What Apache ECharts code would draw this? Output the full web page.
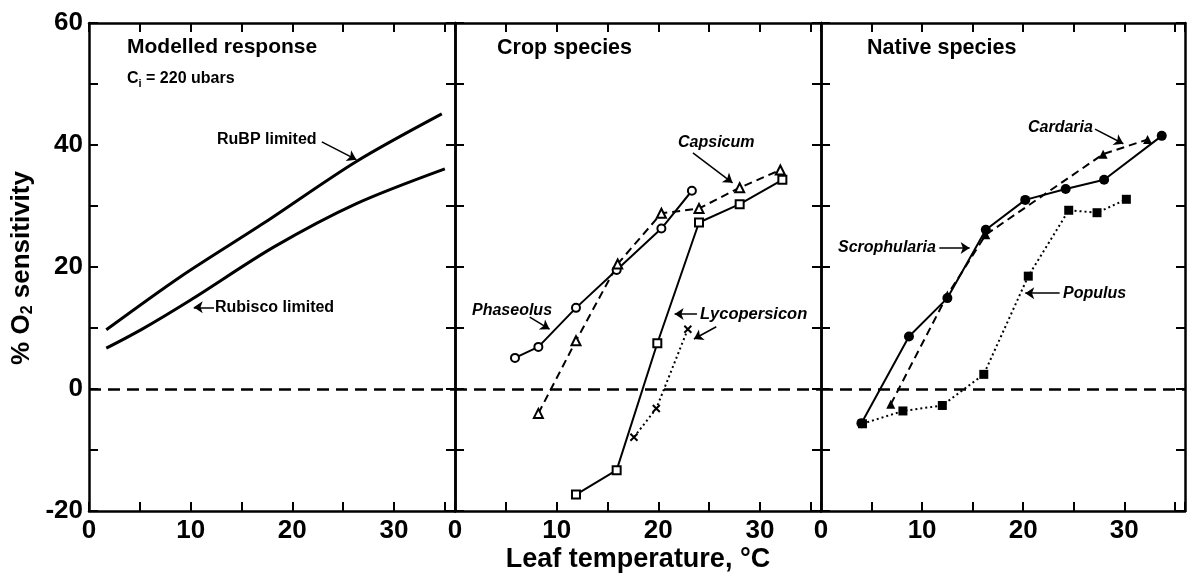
<!DOCTYPE html>
<html>
<head>
<meta charset="utf-8">
<script src="https://cdn.jsdelivr.net/npm/echarts@6/dist/echarts.min.js"></script>
<style>
  html, body { margin: 0; padding: 0; background: #fff; }
  #chart { width: 1188px; height: 575px; }
</style>
</head>
<body>
<div id="chart"></div>
<script>
// data: [leaf temperature C, % O2 sensitivity]
var rubpLimited = [[1.7, 9.7], [9, 18.4], [17.2, 27.2], [26.3, 37.3], [34.7, 45.1]];
var rubiscoLimited = [[1.7, 6.7], [5.1, 9.7], [10, 14.6], [18.2, 23.3], [26.3, 30.4], [35, 36.1]];

var phaseolus = [[5.9, 5.1], [8.2, 6.9], [11.9, 13.3], [15.9, 19.5], [20.3, 26.3], [23.3, 32.5]];
var capsicum = [[8.2, -4], [11.9, 7.9], [16, 20.5], [20.3, 28.8], [24, 29.6], [28, 33], [32, 35.9]];
var lycoSquares = [[11.9, -17.3], [15.9, -13.3], [19.9, 7.5], [24, 27.3], [28, 30.3], [32.2, 34.3]];
var lycoCrosses = [[17.6, -7.9], [19.8, -3.2], [22.9, 9.8]];

var scrophularia = [[4, -5.6], [8.7, 8.6], [12.5, 14.9], [16.3, 26.1], [20.2, 31], [24.2, 32.8], [28, 34.3], [33.7, 41.5]];
var cardaria = [[6.9, -2.5], [12.5, 15.4], [16.3, 25.3], [27.9, 38.5], [32.3, 40.9]];
var populus = [[4.1, -5.7], [8.1, -3.6], [12, -2.7], [16.1, 2.4], [20.5, 18.5], [24.5, 29.3], [27.3, 28.9], [30.2, 31.1]];

var yTicks = [-20, 0, 20, 40, 60];
var xTicks = [0, 10, 20, 30];

// arrows [panel, from, to] in data units
var arrows = [
    [0, [22.9, 40.5], [26.3, 37.6]],
    [0, [12.3, 13.4], [10.3, 13.4]],
    [1, [23.4, 38.7], [27.3, 33.8]],
    [1, [7.35, 11.8], [9.3, 9.8]],
    [1, [23.8, 12.3], [21.6, 12.3]],
    [1, [25.7, 10.2], [23.5, 8.2]],
    [2, [27.1, 42.6], [29.9, 40.2]],
    [2, [11.7, 23.1], [14.7, 23.1]],
    [2, [23.6, 15.7], [20.2, 15.7]]
];

var FONT = '"Liberation Sans", Arial, sans-serif';
var gridLefts = [89, 455, 821];
var W = 366, TOP = 23, H = 488;

var grids = [], xAxes = [], yAxes = [];
gridLefts.forEach(function (l, i) {
    grids.push({ left: l, top: TOP, width: W, height: H });
    var axLine = { show: true, onZero: false, lineStyle: { color: '#000', width: 2.5 } };
    var tick = { show: true, inside: true, length: 9, lineStyle: { color: '#000', width: 2 } };
    xAxes.push({
        type: 'value', gridIndex: i, min: 0, max: 36, interval: 5, position: 'bottom',
        axisLine: axLine, axisTick: tick, splitLine: { show: false },
        axisLabel: {
            color: '#000', fontSize: 26, fontWeight: 'bold', fontFamily: FONT, margin: 7,
            formatter: function (v) { return xTicks.indexOf(v) >= 0 ? String(v) : ''; }
        }
    });
    xAxes.push({
        type: 'value', gridIndex: i, min: 0, max: 36, interval: 5, position: 'top',
        axisLine: axLine, axisTick: tick, splitLine: { show: false }, axisLabel: { show: false }
    });
    yAxes.push({
        type: 'value', gridIndex: i, min: -20, max: 60, interval: 10, position: 'left',
        axisLine: axLine, axisTick: tick, splitLine: { show: false },
        axisLabel: {
            show: i === 0, color: '#000', fontSize: 26, fontWeight: 'bold', fontFamily: FONT, margin: 6,
            formatter: function (v) { return yTicks.indexOf(v) >= 0 ? String(v) : ''; }
        }
    });
    yAxes.push({
        type: 'value', gridIndex: i, min: -20, max: 60, interval: 10, position: 'right',
        axisLine: axLine, axisTick: tick, splitLine: { show: false }, axisLabel: { show: false }
    });
});

var crossPath = 'path://M0,0L10,10M10,0L0,10';

function mk(panel, data, symbol, size, lineType, filled, extra) {
    var s = {
        type: 'line', xAxisIndex: panel * 2, yAxisIndex: panel * 2, data: data,
        symbol: symbol, symbolSize: size, showSymbol: symbol !== 'none', animation: false,
        lineStyle: { color: '#000', width: 2, type: lineType },
        itemStyle: { color: '#000', borderColor: '#000', borderWidth: filled ? 0 : 2 },
        z: 3
    };
    if (extra) Object.assign(s, extra);
    return s;
}

function arrowLines(panel) {
    return arrows.filter(function (a) { return a[0] === panel; }).map(function (a) {
        return [{ coord: a[1] }, { coord: a[2] }];
    });
}

function guides(panel) {
    return {
        type: 'line', xAxisIndex: panel * 2, yAxisIndex: panel * 2, data: [], animation: false,
        markLine: {
            silent: true, animation: false, symbol: 'none', label: { show: false },
            lineStyle: { color: '#000', width: 2.5, type: [12, 7] },
            data: [{ yAxis: 0 }]
        }
    };
}

function arrowSeries(panel) {
    return {
        type: 'line', xAxisIndex: panel * 2, yAxisIndex: panel * 2, data: [[0, 0]],
        symbol: 'none', lineStyle: { opacity: 0 }, animation: false,
        markLine: {
            silent: true, animation: false, symbol: ['none', 'arrow'], symbolSize: 9,
            label: { show: false },
            lineStyle: { color: '#000', width: 1.5, type: 'solid' },
            itemStyle: { color: '#000' },
            data: arrowLines(panel)
        }
    };
}

var series = [
    guides(0), guides(1), guides(2),
    arrowSeries(0), arrowSeries(1), arrowSeries(2),
    mk(0, rubpLimited, 'none', 0, 'solid', true, { smooth: 0.3, lineStyle: { color: '#000', width: 3 } }),
    mk(0, rubiscoLimited, 'none', 0, 'solid', true, { smooth: 0.3, lineStyle: { color: '#000', width: 3 } }),
    mk(1, phaseolus, 'emptyCircle', 8, 'solid', false),
    mk(1, capsicum, 'emptyTriangle', 9, [8, 5], false),
    mk(1, lycoSquares, 'emptyRect', 8, 'solid', false),
    mk(1, lycoCrosses, crossPath, 7, [2, 3], false),
    mk(2, scrophularia, 'circle', 10, 'solid', true),
    mk(2, cardaria, 'triangle', 9, [8, 5], true),
    mk(2, populus, 'rect', 9, [2, 3], true)
];

function txt(x, y, text, size, italic, extra) {
    var st = {
        x: x, y: y, text: text, fill: '#000', font: (italic ? 'italic ' : '') + 'bold ' + size + 'px ' + FONT,
        textVerticalAlign: 'middle'
    };
    if (extra) Object.assign(st, extra);
    return { type: 'text', z: 10, silent: true, style: st };
}

var graphic = [
    txt(127, 47, 'Modelled response', 21),
    txt(127, 79, 'C{s|i} = 220 ubars', 16, false, {
        rich: { s: { fontSize: 11, fontWeight: 'bold', fontFamily: FONT, padding: [9, 0, 0, 0] } }
    }),
    txt(217, 140, 'RuBP limited', 16),
    txt(215, 308, 'Rubisco limited', 16),
    txt(497, 48, 'Crop species', 21.5),
    txt(678, 143, 'Capsicum', 16, true),
    txt(472, 311, 'Phaseolus', 16, true),
    txt(700, 314, 'Lycopersicon', 16.5, true),
    txt(867, 48, 'Native species', 21.5),
    txt(1028, 128, 'Cardaria', 16, true),
    txt(838, 248, 'Scrophularia', 16, true),
    txt(1063, 294, 'Populus', 16, true),
    txt(638, 560, 'Leaf temperature, °C', 27, false, { textAlign: 'center' }),
    {
        type: 'text', z: 10, silent: true, x: 22, y: 268, rotation: Math.PI / 2,
        style: {
            text: '% O{s|2} sensitivity', fill: '#000', font: 'bold 26px ' + FONT,
            textAlign: 'center', textVerticalAlign: 'middle',
            rich: { s: { fontSize: 16, fontWeight: 'bold', fontFamily: FONT, padding: [12, 0, 0, 0] } }
        }
    }
];

var chart = echarts.init(document.getElementById('chart'), null, { renderer: 'canvas' });
chart.setOption({
    backgroundColor: '#fff',
    animation: false,
    grid: grids,
    xAxis: xAxes,
    yAxis: yAxes,
    series: series,
    graphic: graphic
});
</script>
</body>
</html>
